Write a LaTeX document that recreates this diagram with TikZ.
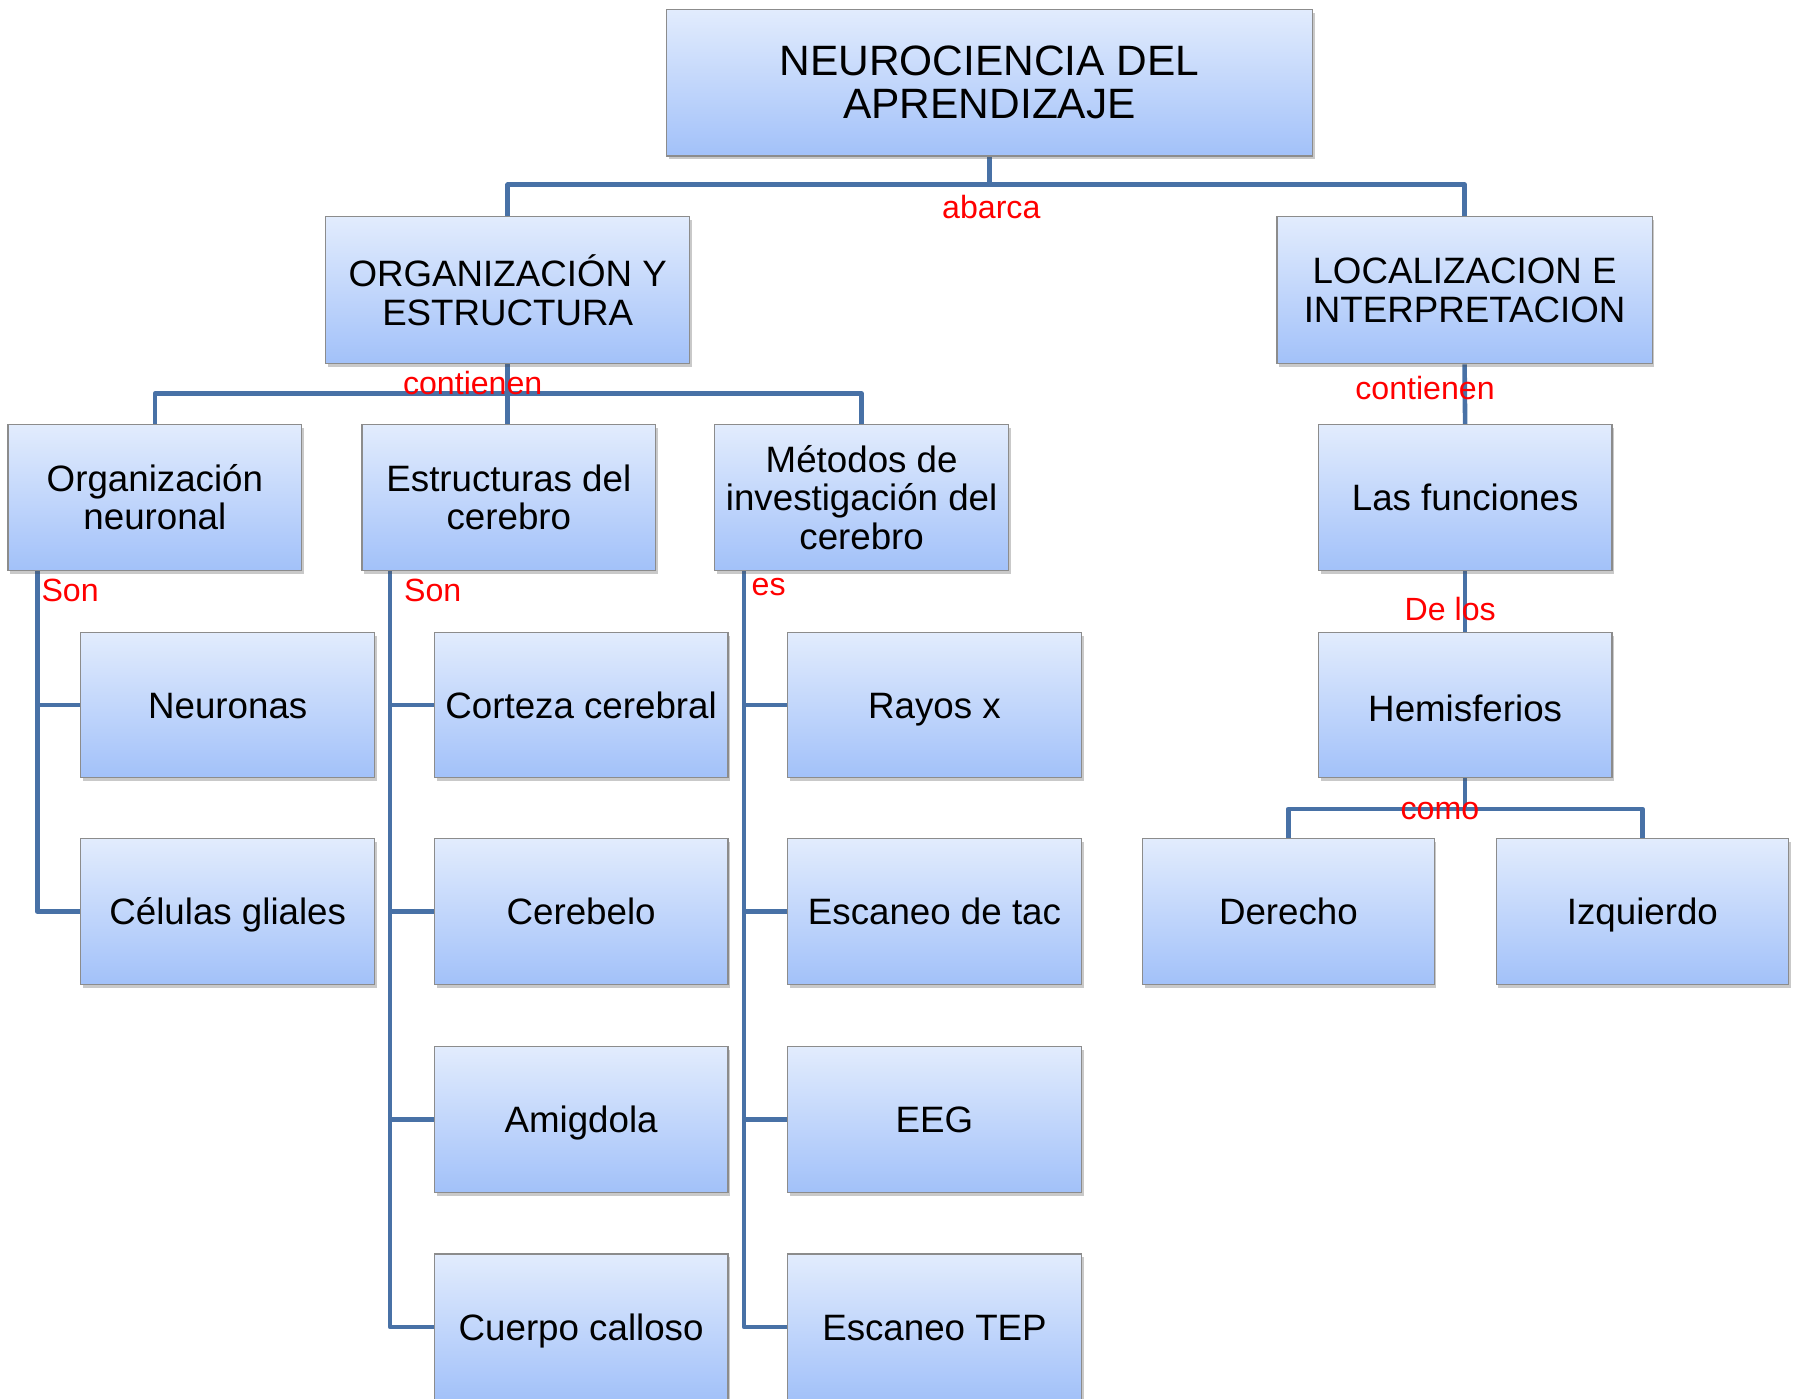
\documentclass[tikz,border=0pt]{standalone}
\usepackage{fontspec}
\setmainfont{Liberation Sans}
\usetikzlibrary{shadows,backgrounds}
\definecolor{boxtop}{RGB}{226,236,253}
\definecolor{boxbot}{RGB}{162,193,249}
\definecolor{boxline}{RGB}{140,140,140}
\definecolor{wirec}{RGB}{72,113,166}
\begin{document}
\begin{tikzpicture}[x=1pt,y=-1pt,
 box/.style={draw=boxline, line width=1pt, top color=boxtop, bottom color=boxbot,
   minimum width=256pt, minimum height=127pt, inner sep=0pt, align=center,
   font=\fontsize{32}{33.5}\selectfont,
   drop shadow={shadow xshift=2pt, shadow yshift=-3pt, opacity=0.3, fill=black!70}},
 one/.style={box, text height=30pt, text depth=7pt},
 wire/.style={draw=wirec, line width=4pt, line join=round},
 lab/.style={text=red, font=\fontsize{28}{28}\selectfont, inner sep=0pt}]
\useasboundingbox (0,0) rectangle (1568,1220);
\clip (0,0) rectangle (1568,1219);

% level 1 and 2
\node[box, minimum width=563pt, minimum height=128pt, font=\fontsize{37}{37}\selectfont] (top) at (862.5,72) {NEUROCIENCIA DEL\\APRENDIZAJE};
\node[box, minimum width=317pt, minimum height=128pt] (org) at (442.5,253) {ORGANIZACIÓN Y\\ESTRUCTURA};
\node[box, minimum width=327pt, minimum height=128pt] (loc) at (1276.5,253) {LOCALIZACION E\\INTERPRETACION};

% level 3
\node[box] (orgn) at (135,433.5) {Organización\\neuronal};
\node[box] (estr) at (443.5,433.5) {Estructuras del\\cerebro};
\node[box] (met) at (751,433.5) {Métodos de\\investigación del\\cerebro};
\node[one] (func) at (1277,433.5) {Las funciones};

% leaves
\node[one] (neur) at (198.5,614.5) {Neuronas};
\node[one] (glia) at (198.5,794.5) {Células gliales};

\node[one] (cort) at (506.5,614.5) {Corteza cerebral};
\node[one] (cereb) at (506.5,794.5) {Cerebelo};
\node[one] (amig) at (506.5,975.5) {Amigdola};
\node[one] (cuer) at (506.5,1156.5) {Cuerpo calloso};

\node[one] (rayos) at (814.5,614.5) {Rayos x};
\node[one] (tac) at (814.5,794.5) {Escaneo de tac};
\node[one] (eeg) at (814.5,975.5) {EEG};
\node[one] (tep) at (814.5,1156.5) {Escaneo TEP};

\node[one, text depth=2pt] (hemi) at (1277,614.5) {Hemisferios};
\node[one, minimum width=254pt] (der) at (1123,794.5) {Derecho};
\node[one, minimum width=255pt] (izq) at (1431.5,794.5) {Izquierdo};

% connector coordinates
\coordinate (b1) at (0,161);
\coordinate (b2) at (0,343);
\coordinate (b3) at (0,705);
\coordinate (s1) at ([xshift=26pt]orgn.south west);
\coordinate (s2) at ([xshift=25pt]estr.south west);
\coordinate (s3) at ([xshift=26pt]met.south west);

\begin{scope}[on background layer]
\draw[wire] (top.south) -- (b1 -| top.south);
\draw[wire] (org.north) |- (b1 -| top.south) -| (loc.north);
\draw[wire] (org.south) -- (org.south |- estr.north);
\draw[wire] (orgn.north) |- (b2 -| org.south) -| (met.north);
\draw[wire] (loc.south) -- (func.north);
\draw[wire] (func.south) -- (hemi.north);
\draw[wire] (hemi.south) -- (b3 -| hemi.south);
\draw[wire] (der.north) |- (b3 -| hemi.south) -| (izq.north);

\draw[wire] (s1) |- (glia.west);
\draw[wire] (s1 |- neur.west) -- (neur.west);

\draw[wire] (s2) |- (cuer.west);
\draw[wire] (s2 |- cort.west) -- (cort.west);
\draw[wire] (s2 |- cereb.west) -- (cereb.west);
\draw[wire] (s2 |- amig.west) -- (amig.west);

\draw[wire] (s3) |- (tep.west);
\draw[wire] (s3 |- rayos.west) -- (rayos.west);
\draw[wire] (s3 |- tac.west) -- (tac.west);
\draw[wire] (s3 |- eeg.west) -- (eeg.west);
\end{scope}

% labels
\node[lab] (l1) at (864,180) {abarca};
\node[lab] (l2) at (412,334) {contienen};
\node[lab] (l3) at (1242,338) {contienen};
\node[lab, anchor=west] (l4) at (36,515) {Son};
\node[lab, anchor=west] (l5) at (352,515) {Son};
\node[lab, anchor=west] (l6) at (655,512) {es};
\node[lab] (l7) at (1264,531) {De los};
\node[lab] (l8) at (1255,707) {como};
\end{tikzpicture}
\end{document}
